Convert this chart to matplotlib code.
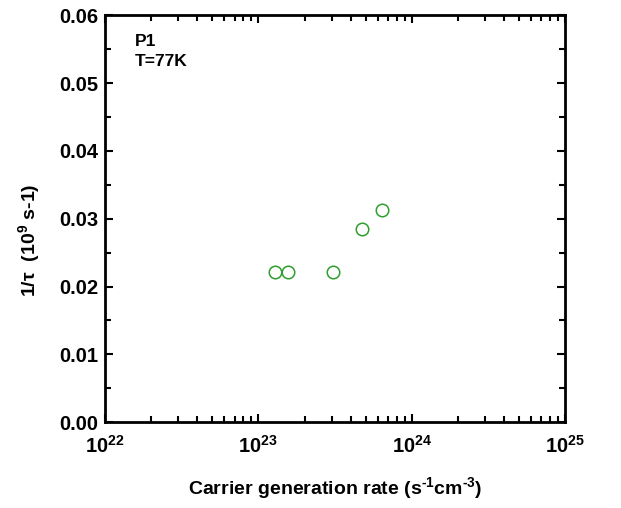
import matplotlib as mpl
mpl.use('Agg')
import matplotlib.pyplot as plt
from matplotlib.ticker import LogLocator, MultipleLocator

# carrier generation rate (s^-1 cm^-3) and 1/tau (10^9 s^-1)
gen_rate = [1.29e23, 1.57e23, 3.09e23, 4.71e23, 6.37e23]
inv_tau = [0.0222, 0.0222, 0.0222, 0.0285, 0.0313]

plt.rcParams['font.family'] = ['Liberation Sans', 'DejaVu Sans']
plt.rcParams['font.weight'] = 'bold'
plt.rcParams['mathtext.fontset'] = 'custom'
plt.rcParams['mathtext.bf'] = 'Liberation Sans:bold'
plt.rcParams['mathtext.rm'] = 'Liberation Sans:bold'
plt.rcParams['mathtext.it'] = 'Liberation Sans'

fig = plt.figure(figsize=(6.21, 5.08), dpi=100)
ax = fig.add_axes([0.169, 0.169, 0.741, 0.801])

ax.plot(gen_rate, inv_tau, linestyle='none', marker='o', markersize=9,
        markerfacecolor='none', markeredgecolor='#2e9e2e', markeredgewidth=1.1)

ax.set_xscale('log')
ax.set_xlim(1e22, 1e25)
ax.set_ylim(0, 0.06)
ax.yaxis.set_major_locator(MultipleLocator(0.01))
ax.yaxis.set_minor_locator(MultipleLocator(0.005))
ax.yaxis.set_major_formatter(mpl.ticker.FormatStrFormatter('%.2f'))
ax.xaxis.set_major_locator(LogLocator(base=10, numticks=10))
ax.xaxis.set_minor_locator(LogLocator(base=10, subs=range(2, 10), numticks=20))

for s in ax.spines.values():
    s.set_linewidth(2)
ax.tick_params(which='both', direction='in', top=True, right=True, width=1.5, labelsize=14.5)
ax.tick_params(which='major', length=6, pad=5)
ax.tick_params(axis='x', which='major', pad=9)
ax.tick_params(which='minor', length=4)

ax.set_xlabel(r'Carrier generation rate (s$^{\mathbf{\text{-}1}}$cm$^{\mathbf{\text{-}3}}$)',
              fontsize=14, fontweight='bold', labelpad=13)
ax.set_ylabel(r'1/$\tau$  (10$^{\mathbf{9}}$ s-1)', fontsize=14, fontweight='bold')
ax.yaxis.set_label_coords(-0.137, 0.447)

ax.text(0.065, 0.925, 'P1', transform=ax.transAxes, fontsize=12.5, fontweight='bold')
ax.text(0.065, 0.875, 'T=77K', transform=ax.transAxes, fontsize=12.5, fontweight='bold')

fig.savefig('out.png', dpi=100)
